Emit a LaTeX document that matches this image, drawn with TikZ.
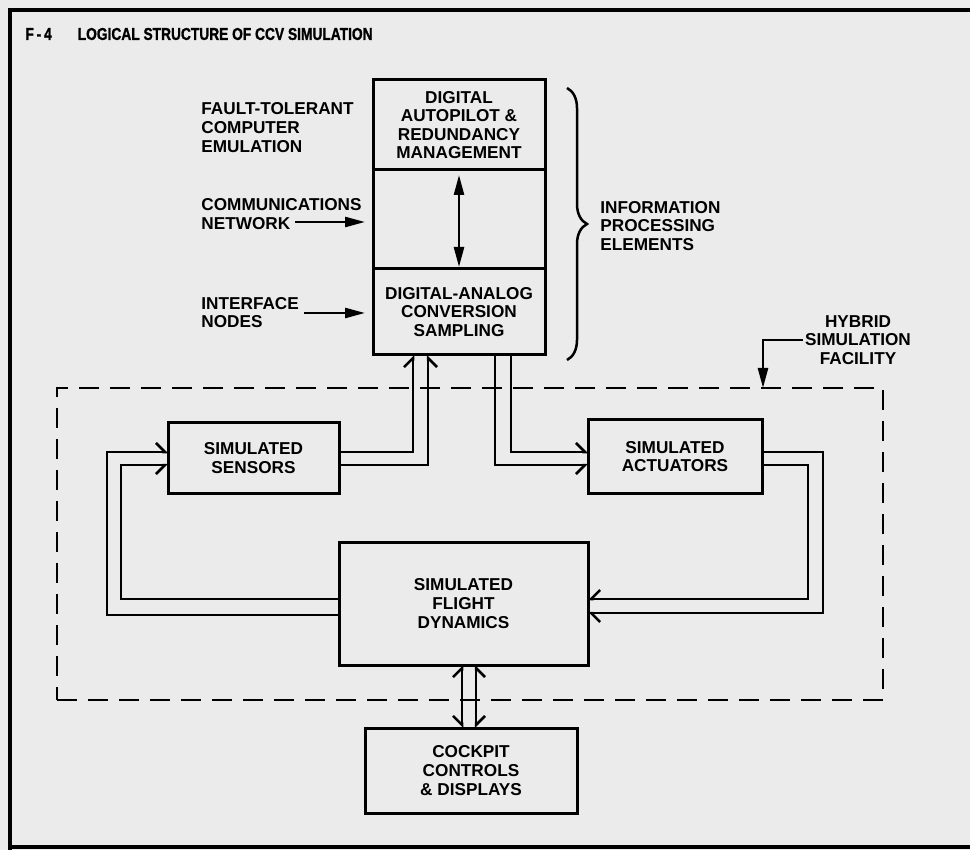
\documentclass[tikz,border=0pt]{standalone}
\usepackage{fontspec}
\setmainfont{Liberation Sans}
\newfontfamily\titlefont[FakeStretch=0.8, FakeBold=1.2]{Liberation Sans}
\usepackage{tikz}
\usetikzlibrary{
	arrows.meta,
	positioning,
	decorations.pathreplacing
}
\newcommand{\boxfont}{\bfseries\fontsize{8.6}{9.3}\selectfont}
\tikzset{
	barbL/.tip={Straight Barb[left, length=4.5pt, width=9pt]},
	barbR/.tip={Straight Barb[right, length=4.5pt, width=9pt]},
	tri/.tip={Triangle[length=10pt, width=5pt]}
}

\begin{document}
\begin{tikzpicture}[
	x=0.5pt, y=-0.5pt,
	block/.style={
		rectangle, draw, line width=1.5pt,
		inner sep=0pt, outer sep=0pt,
		align=center, font=\boxfont
	},
	caption/.style={
		inner sep=0pt, align=left, font=\boxfont
	},
	hybridframe/.style={
		rectangle, draw, line width=1.4pt, dash pattern=on 10pt off 5.5pt,
		inner sep=0pt, outer sep=0pt
	},
	bus/.style={line width=1.25pt},
	feed/.style={line width=1.25pt, -tri}
	]
	
	% page
	\useasboundingbox (0,0) rectangle (970,850);
	\fill[black!8] (0,0) rectangle (970,850);
	\draw[line width=1.8pt] (970,10) -- (10,10) -- (10,850);
	\draw[line width=1.8pt] (10,847) -- (970,847);
	
	% title
	\node[anchor=west, inner sep=0pt, font=\titlefont\bfseries\fontsize{8.6}{10}\selectfont] (title) at (25,34)
		{F\,-\,4\hspace{13pt}LOGICAL STRUCTURE OF CCV SIMULATION};
	
	% hybrid simulation facility
	\node[hybridframe, minimum width=413pt, minimum height=156pt] (hyb) at (470,544) {};
	
	% information processing elements
	\node[block, minimum width=86pt, minimum height=45pt] (dap) at (459,125)
		{DIGITAL\\AUTOPILOT \&\\REDUNDANCY\\MANAGEMENT};
	\node[block, minimum width=86pt, minimum height=49.5pt, below=0pt of dap] (net) {};
	\node[block, minimum width=86pt, minimum height=43pt, below=0pt of net] (dac)
		{DIGITAL-ANALOG\\CONVERSION\\SAMPLING};
	
	% simulated plant
	\node[block, minimum width=85.5pt, minimum height=35pt] (sens) at (253.5,458) {SIMULATED\\SENSORS};
	\node[block, minimum width=87pt, minimum height=36.5pt] (act) at (675,456.5) {SIMULATED\\ACTUATORS};
	\node[block, minimum width=124.5pt, minimum height=61.5pt] (fd) at (463.5,603.5) {SIMULATED\\FLIGHT\\DYNAMICS};
	
	% cockpit
	\node[block, minimum width=106pt, minimum height=42.5pt] (cock) at (471,770.5) {COCKPIT\\CONTROLS\\\& DISPLAYS};
	
	% labels
	\node[caption, anchor=west] (ftce) at (201,127.5) {FAULT-TOLERANT\\COMPUTER\\EMULATION};
	\node[caption, anchor=west] (comm) at (201,214) {COMMUNICATIONS\\NETWORK};
	\node[caption, anchor=west] (iface) at (201,312.5) {INTERFACE\\NODES};
	\node[caption, anchor=west] (ipe) at (600,226) {INFORMATION\\PROCESSING\\ELEMENTS};
	\node[caption, align=center] (hsf) at (858,340) {HYBRID\\SIMULATION\\FACILITY};
	
	% label arrows
	\coordinate (commtail) at (295,222);
	\coordinate (ifacetail) at (304,313);
	\draw[feed, shorten >=4pt] (commtail) -- (commtail -| net.west);
	\draw[feed, shorten >=4pt] (ifacetail) -- (ifacetail -| dac.west);
	\draw[line width=1.25pt, tri-tri, shorten <=2.5pt, shorten >=1pt] (net.north) -- (net.south);
	\draw[feed, shorten <=1pt] (hsf.west) -| ([xshift=146.5pt]hyb.north);
	
	% brace
	\draw[line width=1.25pt, decorate, decoration={brace, amplitude=10pt}]
		([xshift=11pt, yshift=-4pt]dap.north east) -- ([xshift=11pt, yshift=-2.5pt]dac.south east);
	
	% sensors -> conversion
	\draw[bus, -barbL] ([yshift=3pt]sens.east) -| ([xshift=-23pt]dac.south);
	\draw[bus, -barbR] ([yshift=-3.5pt]sens.east) -| ([xshift=-15.5pt]dac.south);
	
	% conversion -> actuators
	\draw[bus, -barbL] ([xshift=26pt]dac.south) |- ([yshift=2.25pt]act.west);
	\draw[bus, -barbR] ([xshift=18pt]dac.south) |- ([yshift=-4.25pt]act.west);
	
	% actuators -> flight dynamics
	\draw[bus, -barbL] ([yshift=2.25pt]act.east) -| ([xshift=117.5pt, yshift=-4.75pt]fd.east) -- ([yshift=-4.75pt]fd.east);
	\draw[bus, -barbR] ([yshift=-4.25pt]act.east) -| ([xshift=110pt, yshift=2.25pt]fd.east) -- ([yshift=2.25pt]fd.east);
	
	% flight dynamics -> sensors
	\draw[bus, -barbL] ([yshift=-5.75pt]fd.west) -| ([xshift=-30.5pt, yshift=3pt]sens.west) -- ([yshift=3pt]sens.west);
	\draw[bus, -barbR] ([yshift=2.25pt]fd.west) -| ([xshift=-23.5pt, yshift=-3.5pt]sens.west) -- ([yshift=-3.5pt]sens.west);
	
	% flight dynamics <-> cockpit
	\draw[bus, barbR-barbL] ([xshift=-4.5pt]cock.north) -- ([xshift=-0.75pt]fd.south);
	\draw[bus, barbL-barbR] ([xshift=2.5pt]cock.north) -- ([xshift=6.25pt]fd.south);
\end{tikzpicture}
\end{document}
